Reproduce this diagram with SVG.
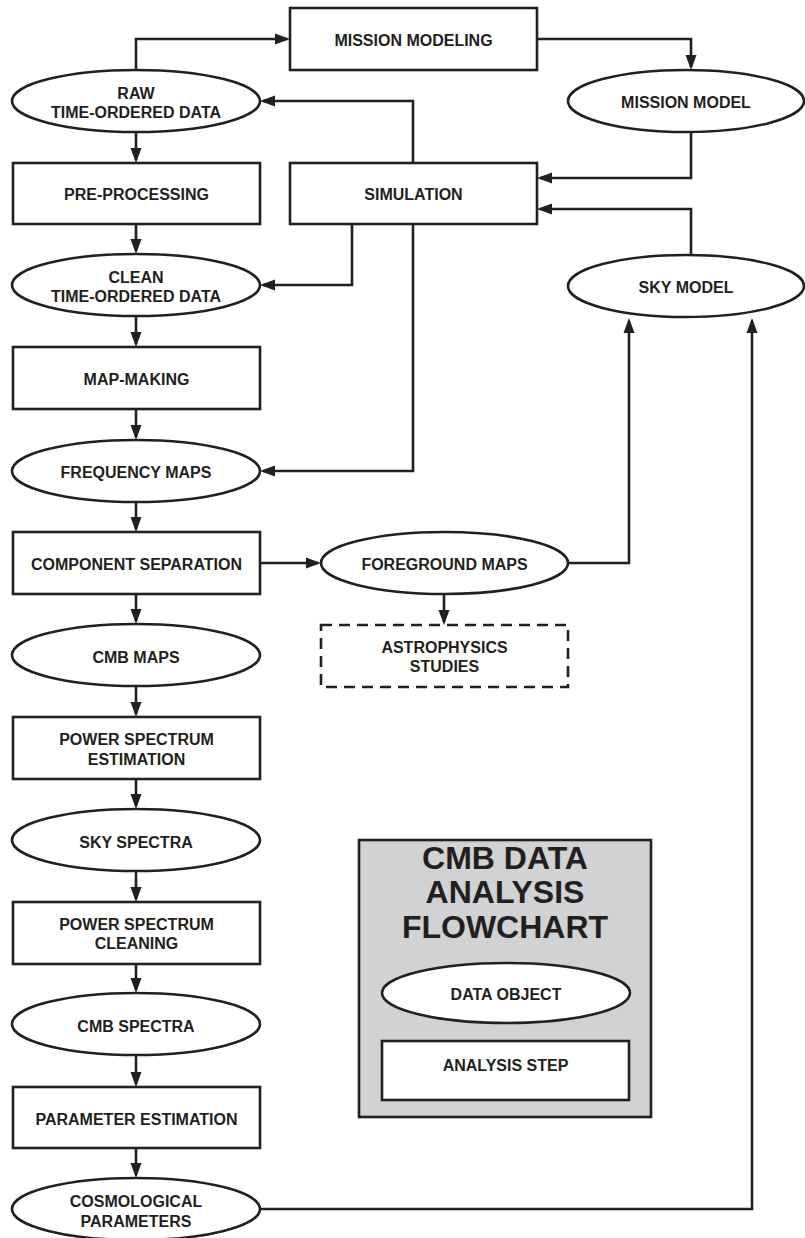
<svg xmlns="http://www.w3.org/2000/svg" width="805" height="1238" viewBox="0 0 805 1238">
<defs>
<marker id="ah" markerUnits="userSpaceOnUse" markerWidth="16" markerHeight="12" viewBox="0 0 16 12" refX="12" refY="6" orient="auto">
<path d="M0,0.5 L15,6 L0,11.5 Z" fill="#231f20"/>
</marker>
<style>
.n{fill:#fff;stroke:#231f20;stroke-width:2.6}
.d{fill:#fff;stroke:#231f20;stroke-width:2.6;stroke-dasharray:11 7}
.lg{fill:#d1d2d4;stroke:#231f20;stroke-width:2.6}
.t{font-family:"Liberation Sans",Arial,sans-serif;font-weight:bold;font-size:16px;fill:#231f20;text-anchor:middle}
.big{font-size:32px}
.c{fill:none;stroke:#231f20;stroke-width:2.6;marker-end:url(#ah)}
.cn{fill:none;stroke:#231f20;stroke-width:2.6}
</style>
</defs>
<rect width="805" height="1238" fill="#fff"/>

<g id="connectors">
<path class="c" d="M136,70 V39 H287"/>
<path class="c" d="M537,39 H691 V67"/>
<path class="c" d="M691,132 V178 H540"/>
<path class="c" d="M413,163 V101 H263"/>
<path class="c" d="M691,255 V209 H540"/>
<path class="c" d="M352,224 V285 H263"/>
<path class="c" d="M413,224 V471 H263"/>
<path class="c" d="M136,132 V160"/>
<path class="c" d="M136,224 V251"/>
<path class="c" d="M136,316 V344"/>
<path class="c" d="M136,409 V437"/>
<path class="c" d="M136,502 V529"/>
<path class="c" d="M136,594 V621"/>
<path class="c" d="M136,686 V714"/>
<path class="c" d="M136,779 V806"/>
<path class="c" d="M136,871 V899"/>
<path class="c" d="M136,964 V990"/>
<path class="c" d="M136,1055 V1084"/>
<path class="c" d="M136,1148 V1175"/>
<path class="c" d="M260,563 H318"/>
<path class="c" d="M444,594 V622"/>
<path class="c" d="M568,563 H629 V321"/>
<path class="c" d="M260,1209 H752 V321"/>
</g>

<g id="mission-modeling"><rect class="n" x="290" y="8" width="247" height="62"/><text class="t" x="413.5" y="46">MISSION MODELING</text></g>
<g id="raw-tod"><ellipse class="n" cx="136" cy="101" rx="124" ry="31"/><text class="t" x="136" y="99">RAW</text><text class="t" x="136" y="118">TIME-ORDERED DATA</text></g>
<g id="mission-model"><ellipse class="n" cx="686" cy="101" rx="118" ry="31"/><text class="t" x="686" y="108">MISSION MODEL</text></g>
<g id="pre-processing"><rect class="n" x="13" y="163" width="247" height="61"/><text class="t" x="136.5" y="200">PRE-PROCESSING</text></g>
<g id="simulation"><rect class="n" x="290" y="163" width="247" height="61"/><text class="t" x="413.5" y="200">SIMULATION</text></g>
<g id="clean-tod"><ellipse class="n" cx="136" cy="285" rx="124" ry="31"/><text class="t" x="136" y="283">CLEAN</text><text class="t" x="136" y="302">TIME-ORDERED DATA</text></g>
<g id="sky-model"><ellipse class="n" cx="686" cy="286" rx="118" ry="31"/><text class="t" x="686" y="293">SKY MODEL</text></g>
<g id="map-making"><rect class="n" x="13" y="347" width="247" height="62"/><text class="t" x="136.5" y="385">MAP-MAKING</text></g>
<g id="frequency-maps"><ellipse class="n" cx="136" cy="471" rx="124" ry="31"/><text class="t" x="136" y="478">FREQUENCY MAPS</text></g>
<g id="component-separation"><rect class="n" x="13" y="532" width="247" height="62"/><text class="t" x="136.5" y="570">COMPONENT SEPARATION</text></g>
<g id="foreground-maps"><ellipse class="n" cx="444.5" cy="563" rx="123.5" ry="31"/><text class="t" x="444.5" y="570">FOREGROUND MAPS</text></g>
<g id="astrophysics-studies"><rect class="d" x="321" y="625" width="247" height="62"/><text class="t" x="444.5" y="653">ASTROPHYSICS</text><text class="t" x="444.5" y="672">STUDIES</text></g>
<g id="cmb-maps"><ellipse class="n" cx="136" cy="655" rx="124" ry="31"/><text class="t" x="136" y="663">CMB MAPS</text></g>
<g id="power-spectrum-estimation"><rect class="n" x="13" y="717" width="247" height="62"/><text class="t" x="136.5" y="745">POWER SPECTRUM</text><text class="t" x="136.5" y="765">ESTIMATION</text></g>
<g id="sky-spectra"><ellipse class="n" cx="136" cy="840" rx="124" ry="31"/><text class="t" x="136" y="848">SKY SPECTRA</text></g>
<g id="power-spectrum-cleaning"><rect class="n" x="13" y="902" width="247" height="62"/><text class="t" x="136.5" y="930">POWER SPECTRUM</text><text class="t" x="136.5" y="949">CLEANING</text></g>
<g id="cmb-spectra"><ellipse class="n" cx="136" cy="1024" rx="124" ry="31"/><text class="t" x="136" y="1032">CMB SPECTRA</text></g>
<g id="parameter-estimation"><rect class="n" x="13" y="1087" width="247" height="61"/><text class="t" x="136.5" y="1125">PARAMETER ESTIMATION</text></g>
<g id="cosmological-parameters"><ellipse class="n" cx="136" cy="1209" rx="124" ry="31"/><text class="t" x="136" y="1207">COSMOLOGICAL</text><text class="t" x="136" y="1227">PARAMETERS</text></g>

<g id="legend">
<rect class="lg" x="359" y="840" width="292" height="277"/>
<text class="t big" x="505" y="869">CMB DATA</text>
<text class="t big" x="505" y="903">ANALYSIS</text>
<text class="t big" x="505" y="938">FLOWCHART</text>
<ellipse class="n" cx="506" cy="993" rx="124" ry="30"/>
<text class="t" x="506" y="1000">DATA OBJECT</text>
<rect class="n" x="382" y="1041" width="247" height="59"/>
<text class="t" x="505.5" y="1071">ANALYSIS STEP</text>
</g>
</svg>
